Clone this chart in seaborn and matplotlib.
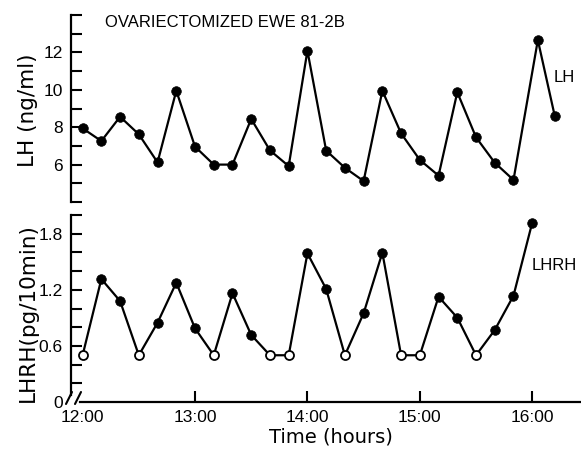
import matplotlib
matplotlib.use("Agg")
import matplotlib.pyplot as plt
import seaborn as sns
import numpy as np
import pandas as pd

# ---- data ----
lh_minutes = [0, 10, 20, 30, 40, 50, 60, 70, 80, 90, 100, 110, 120, 130, 140, 150,
              160, 170, 180, 190, 200, 210, 220, 230, 243, 252]
lh_values = [7.94, 7.26, 8.56, 7.62, 6.12, 9.95, 6.96, 6.0, 6.0, 8.44, 6.76, 5.92,
             12.09, 6.75, 5.83, 5.12, 9.95, 7.67, 6.25, 5.41, 9.87, 7.46, 6.1, 5.18,
             12.66, 8.61]

lhrh_minutes = [0, 10, 20, 30, 40, 50, 60, 70, 80, 90, 100, 110, 120, 130, 140, 150,
                160, 170, 180, 190, 200, 210, 220, 230, 240]
lhrh_values = [0.5, 1.315, 1.08, 0.5, 0.848, 1.276, 0.788, 0.5, 1.163, 0.717, 0.5, 0.5,
               1.59, 1.209, 0.5, 0.949, 1.597, 0.5, 0.5, 1.126, 0.902, 0.5, 0.77, 1.137,
               1.918]
lhrh_detectable = [False, True, True, False, True, True, True, False, True, True, False,
                   False, True, True, False, True, True, False, False, True, True, False,
                   True, True, True]

x_tick_minutes = [0, 60, 120, 180, 240]
x_tick_labels = ["12:00", "13:00", "14:00", "15:00", "16:00"]
lh_ticks = [4, 5, 6, 7, 8, 9, 10, 11, 12, 13, 14]
lh_labeled = {6: "6", 8: "8", 10: "10", 12: "12"}
lhrh_ticks = [0, 0.2, 0.4, 0.6, 0.8, 1.0, 1.2, 1.4, 1.6, 1.8, 2.0]
lhrh_labeled = {0: "0", 0.6: "0.6", 1.2: "1.2", 1.8: "1.8"}

sns.set_style("ticks")
plt.rcParams['font.family'] = ['DejaVu Sans']
for k in ["text.color", "axes.labelcolor", "xtick.color", "ytick.color", "axes.edgecolor"]:
    plt.rcParams[k] = "black"

W, H = 581, 453
fig = plt.figure(figsize=(W / 100, H / 100), dpi=100)

def frac_box(left, top, right, bottom):
    return [left / W, 1 - bottom / H, (right - left) / W, (bottom - top) / H]

ax1 = fig.add_axes(frac_box(71, 15, 580, 202))
ax2 = fig.add_axes(frac_box(71, 215, 580, 402))

xmin, xmax = -6.2, 265.5
lw = 1.6
tickfont = dict(family=['Liberation Sans', 'DejaVu Sans'], size=12.5, color="black")

# ---- LH panel ----
df_lh = pd.DataFrame({"t": lh_minutes, "v": lh_values})
sns.lineplot(data=df_lh, x="t", y="v", ax=ax1, color="black", lw=lw, zorder=2)
sns.scatterplot(data=df_lh, x="t", y="v", ax=ax1, color="black", s=48,
                edgecolor="black", linewidth=0.5, zorder=3)
ax1.set_xlim(xmin, xmax)
ax1.set_ylim(4, 14)
ax1.set_yticks(lh_ticks)
ax1.set_yticklabels([lh_labeled.get(t, "") for t in lh_ticks], **tickfont)
ax1.set_xticks([])
for s in ["top", "right", "bottom"]:
    ax1.spines[s].set_visible(False)
ax1.spines["left"].set_linewidth(1.6)
ax1.spines["left"].set_color("black")
ax1.tick_params(axis="y", direction="in", length=8, width=1.5, pad=6, colors="black")
ax1.set_xlabel("")
ax1.set_ylabel("LH (ng/ml)", fontsize=15.5, color="black")
ax1.yaxis.set_label_coords((28 - 71) / 509, 0.49)
ax1.yaxis.label.set_verticalalignment("center")
ax1.patch.set_alpha(0)

# ---- LHRH panel ----
df_lhrh = pd.DataFrame({"t": lhrh_minutes, "v": lhrh_values, "det": lhrh_detectable})
sns.lineplot(data=df_lhrh, x="t", y="v", ax=ax2, color="black", lw=lw, zorder=2)
sns.scatterplot(data=df_lhrh[df_lhrh.det], x="t", y="v", ax=ax2, color="black", s=48,
                edgecolor="black", linewidth=0.5, zorder=3)
sns.scatterplot(data=df_lhrh[~df_lhrh.det], x="t", y="v", ax=ax2, color="white", s=42,
                edgecolor="black", linewidth=1.3, zorder=3)
ax2.set_xlim(xmin, xmax)
ax2.set_ylim(0, 2.0)
ax2.set_yticks(lhrh_ticks)
ax2.set_yticklabels([lhrh_labeled.get(round(t, 1), "") for t in lhrh_ticks], **tickfont)
ax2.set_xticks(x_tick_minutes)
ax2.set_xticklabels(x_tick_labels, **tickfont)
for s in ["top", "right"]:
    ax2.spines[s].set_visible(False)
for s in ["left", "bottom"]:
    ax2.spines[s].set_linewidth(1.6)
    ax2.spines[s].set_color("black")
ax2.spines["left"].set_bounds(0.07, 2.0)
ax2.spines["bottom"].set_bounds(-1.4, xmax)
ax2.tick_params(axis="y", direction="in", length=8, width=1.5, pad=6, colors="black")
ax2.tick_params(axis="x", direction="in", length=8, width=1.5, pad=6, colors="black")
ax2.yaxis.get_major_ticks()[0].tick1line.set_visible(False)
ax2.xaxis.get_major_ticks()[0].tick1line.set_visible(False)
ax2.set_ylabel("LHRH(pg/10min)", fontsize=15.5, color="black")
ax2.yaxis.set_label_coords((28 - 71) / 509, 0.476)
ax2.yaxis.label.set_verticalalignment("center")
ax2.set_xlabel("Time (hours)", fontsize=14, color="black")
ax2.xaxis.set_label_coords((331 - 71) / 509, (402 - 437) / 187)
ax2.xaxis.label.set_verticalalignment("center")
ax2.patch.set_alpha(0)

# axis break marks at the origin
def px_to_ax(px, py):
    return ((px - 71) / 509, (402 - py) / 187)
for x0 in (66, 75):
    p0 = px_to_ax(x0, 404)
    p1 = px_to_ax(x0 + 6, 392)
    ax2.plot([p0[0], p1[0]], [p0[1], p1[1]], transform=ax2.transAxes,
             color="black", lw=1.5, clip_on=False)

# annotations
fig.text(105 / W, 1 - 22.5 / H, "OVARIECTOMIZED EWE 81-2B",
         family=['Liberation Sans', 'DejaVu Sans'], fontsize=12, va="center", ha="left",
         color="black")
fig.text(554 / W, 1 - 77 / H, "LH", family=['Liberation Sans', 'DejaVu Sans'],
         fontsize=12, va="center", ha="left", color="black")
fig.text(532 / W, 1 - 265 / H, "LHRH", family=['Liberation Sans', 'DejaVu Sans'],
         fontsize=12, va="center", ha="left", color="black")

fig.savefig("out.png", dpi=100)
